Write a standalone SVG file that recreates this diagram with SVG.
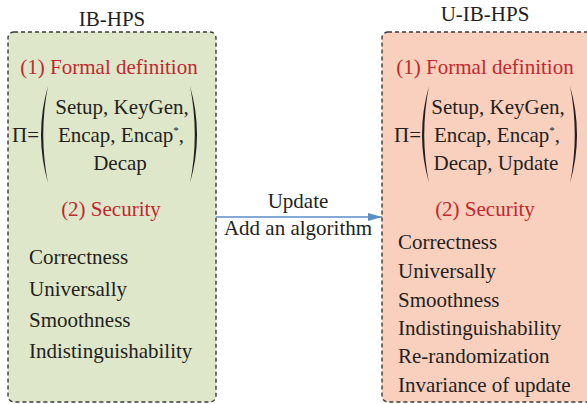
<svg xmlns="http://www.w3.org/2000/svg" width="587" height="404" viewBox="0 0 587 404">
  <defs>
    <marker id="arrow" markerWidth="14" markerHeight="8" refX="14" refY="4" orient="auto" markerUnits="userSpaceOnUse">
      <path d="M0,0 L14,4 L0,8 Z" fill="#5a8ec6"/>
    </marker>
    <style>
      text { font-family: "Liberation Serif", "Times New Roman", serif; font-size: 21px; fill: #231f20; }
      .box { stroke: #3a3a3a; stroke-width: 1.4; stroke-dasharray: 4 3; }
      .red { fill: #c1272d; }
      .mid { text-anchor: middle; }
      .paren { fill: #231f20; stroke: none; }
      .sup { font-size: 11px; }
    </style>
  </defs>
  <rect width="587" height="404" fill="#ffffff"/>

  <!-- Left node: IB-HPS -->
  <g id="ib-hps">
    <text class="mid" x="112" y="26">IB-HPS</text>
    <rect class="box" x="8" y="32" width="208" height="370" rx="6" fill="#dfe7cb"/>
    <text class="red mid" x="109" y="74">(1) Formal definition</text>
    <text x="12" y="142">Π=</text>
    <!-- tall tapered parentheses around the tuple -->
    <path class="paren" d="M48,86 Q34,134.5 48,183 Q38.5,134.5 48,86 Z"/>
    <path class="paren" d="M190,86 Q204,134.5 190,183 Q199.5,134.5 190,86 Z"/>
    <text class="mid" x="122" y="114">Setup, KeyGen,</text>
    <text class="mid" x="121" y="142">Encap, Encap<tspan class="sup" dy="-8">*</tspan><tspan dy="8">,</tspan></text>
    <text class="mid" x="120" y="170">Decap</text>
    <text class="red mid" x="111" y="216">(2) Security</text>
    <text x="29" y="264">Correctness</text>
    <text x="29" y="296">Universally</text>
    <text x="29" y="327">Smoothness</text>
    <text x="29" y="358">Indistinguishability</text>
  </g>

  <!-- Right node: U-IB-HPS -->
  <g id="u-ib-hps">
    <text class="mid" x="485" y="21">U-IB-HPS</text>
    <rect class="box" x="382" y="32" width="215" height="370" rx="6" fill="#f9d0be"/>
    <text class="red mid" x="485" y="74">(1) Formal definition</text>
    <text x="394" y="142">Π=</text>
    <path class="paren" d="M429,86 Q415,134.5 429,183 Q419.5,134.5 429,86 Z"/>
    <path class="paren" d="M570,86 Q584,134.5 570,183 Q579.5,134.5 570,86 Z"/>
    <text class="mid" x="498" y="114">Setup, KeyGen,</text>
    <text class="mid" x="497" y="142">Encap, Encap<tspan class="sup" dy="-8">*</tspan><tspan dy="8">,</tspan></text>
    <text class="mid" x="496" y="170">Decap, Update</text>
    <text class="red mid" x="485" y="216">(2) Security</text>
    <text x="398" y="249">Correctness</text>
    <text x="398" y="278">Universally</text>
    <text x="398" y="307">Smoothness</text>
    <text x="398" y="335">Indistinguishability</text>
    <text x="398" y="363">Re-randomization</text>
    <text x="398" y="392">Invariance of update</text>
  </g>

  <!-- Connector -->
  <g id="connectors">
    <line x1="216" y1="217" x2="382" y2="217" stroke="#5a8ec6" stroke-width="1.5" marker-end="url(#arrow)"/>
    <text class="mid" x="298" y="208">Update</text>
    <text class="mid" x="298" y="235">Add an algorithm</text>
  </g>
</svg>
